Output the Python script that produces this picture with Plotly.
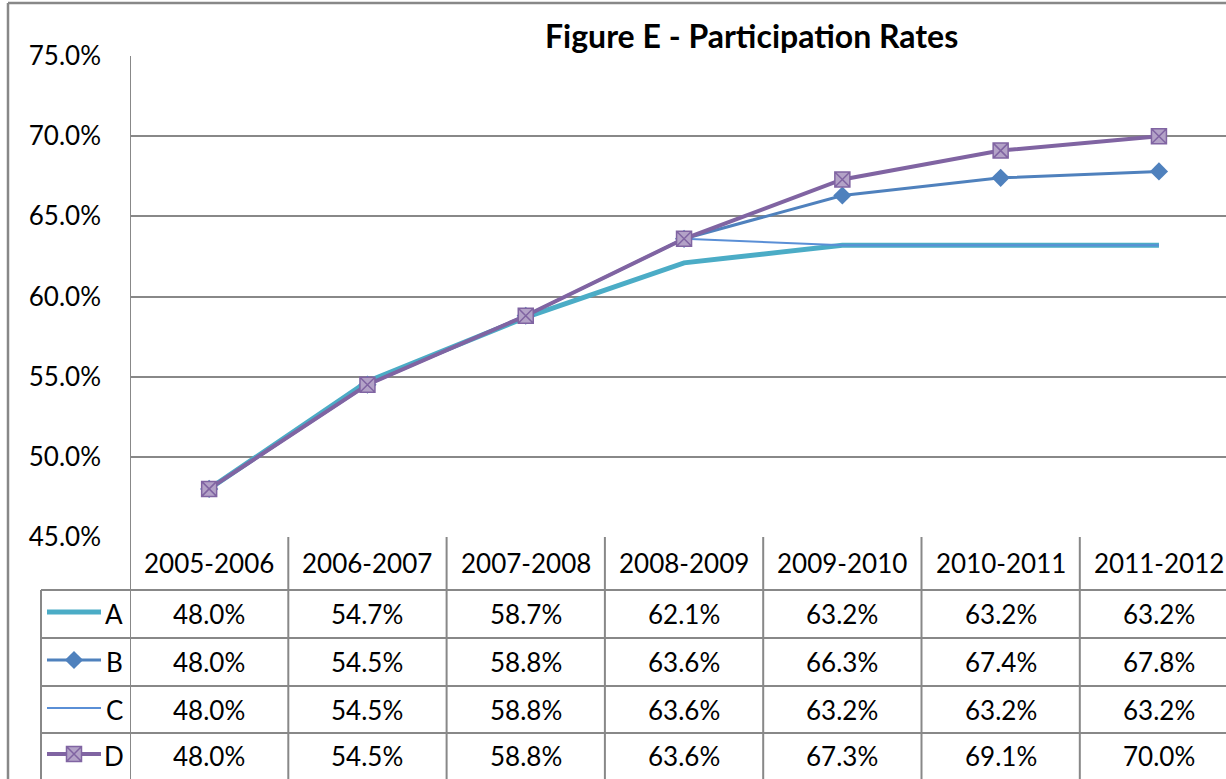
import plotly.graph_objects as go

# ---------------- data ----------------
categories = ["2005-2006", "2006-2007", "2007-2008", "2008-2009",
              "2009-2010", "2010-2011", "2011-2012"]
series_names = ["A", "B", "C", "D"]
a_vals = [48.0, 54.7, 58.7, 62.1, 63.2, 63.2, 63.2]
b_vals = [48.0, 54.5, 58.8, 63.6, 66.3, 67.4, 67.8]
c_vals = [48.0, 54.5, 58.8, 63.6, 63.2, 63.2, 63.2]
d_vals = [48.0, 54.5, 58.8, 63.6, 67.3, 69.1, 70.0]
y_ticks = [45, 50, 55, 60, 65, 70, 75]
title_text = "Figure E - Participation Rates"

# ---------------- layout constants (pixels) ----------------
W, H = 1226, 779
PLOT_L, PLOT_T, PLOT_B = 130, 56, 537
COL_W = 158.3
ROW_LINES = [590, 638, 686, 733]
ROW_CENTERS = [614, 662, 710, 756]
HEADER_CENTER = 563
KEY_L = 41
FONT = "Lato"
GRID = "#888888"
TXT = 26

def px(x):
    return x / W

def py(y):
    return 1 - y / H

x_range = [-0.5, -0.5 + (W - PLOT_L) / COL_W]

styles = {
    "A": dict(line=dict(color="#4BACC6", width=5), mode="lines"),
    "B": dict(line=dict(color="#4F81BD", width=3), mode="lines+markers",
              marker=dict(symbol="diamond", size=14, color="#4F81BD",
                          line=dict(width=0))),
    "C": dict(line=dict(color="#5A8FD6", width=2), mode="lines"),
    "D": dict(line=dict(color="#8064A2", width=4), mode="lines+markers",
              marker=dict(symbol="square-x", size=15, color="#B3A2C7",
                          line=dict(color="#8064A2", width=1.5))),
}
values = {"A": a_vals, "B": b_vals, "C": c_vals, "D": d_vals}

fig = go.Figure()
for name in series_names:
    fig.add_trace(go.Scatter(x=list(range(len(categories))), y=values[name],
                             name=name, showlegend=False, hoverinfo="skip",
                             cliponaxis=False, xaxis="x", yaxis="y",
                             **styles[name]))

# legend keys in the data table (pixel-space axes over the key column)
for i, name in enumerate(series_names):
    st = styles[name]
    cy = ROW_CENTERS[i] - 2
    fig.add_trace(go.Scatter(x=[47, 101], y=[cy, cy], mode="lines",
                             line=st["line"], showlegend=False,
                             hoverinfo="skip", cliponaxis=False,
                             xaxis="x2", yaxis="y2"))
    if "marker" in st:
        fig.add_trace(go.Scatter(x=[74], y=[cy], mode="markers",
                                 marker=st["marker"], showlegend=False,
                                 hoverinfo="skip", cliponaxis=False,
                                 xaxis="x2", yaxis="y2"))

shapes = []
line_style = dict(color=GRID, width=2)
shapes.append(dict(type="line", xref="x", yref="paper", x0=-0.5, x1=-0.5,
                   y0=py(PLOT_T), y1=0, line=line_style, layer="above"))
for i in range(1, len(categories)):
    shapes.append(dict(type="line", xref="x", yref="paper", x0=i - 0.5,
                       x1=i - 0.5, y0=py(PLOT_B), y1=0, line=line_style))
for yl in ROW_LINES:
    shapes.append(dict(type="line", xref="paper", yref="paper", x0=px(KEY_L),
                       x1=1, y0=py(yl), y1=py(yl), line=line_style))
shapes.append(dict(type="line", xref="paper", yref="paper", x0=px(KEY_L),
                   x1=px(KEY_L), y0=py(ROW_LINES[0]), y1=0, line=line_style))
shapes.append(dict(type="line", xref="paper", yref="paper", x0=px(8), x1=px(8),
                   y0=py(3), y1=0, line=dict(color=GRID, width=2.5)))
shapes.append(dict(type="line", xref="paper", yref="paper", x0=px(8), x1=1,
                   y0=py(3), y1=py(3), line=dict(color=GRID, width=2.5)))

annotations = []
annotations.append(dict(text="<b>" + title_text + "</b>", xref="paper",
                        yref="paper", x=px(751), y=py(35), showarrow=False,
                        xanchor="center", yanchor="middle",
                        font=dict(family=FONT, size=32, color="black")))
for i, cat in enumerate(categories):
    annotations.append(dict(text=cat, xref="x", yref="paper", x=i,
                            y=py(HEADER_CENTER), showarrow=False,
                            xanchor="center", yanchor="middle",
                            font=dict(family=FONT, size=TXT, color="black")))
for r, name in enumerate(series_names):
    annotations.append(dict(text=name, xref="paper", yref="paper", x=px(114),
                            y=py(ROW_CENTERS[r]), showarrow=False,
                            xanchor="center", yanchor="middle",
                            font=dict(family=FONT, size=TXT, color="black")))
    for i, v in enumerate(values[name]):
        annotations.append(dict(text=f"{v:.1f}%", xref="x", yref="paper", x=i,
                                y=py(ROW_CENTERS[r]), showarrow=False,
                                xanchor="center", yanchor="middle",
                                font=dict(family=FONT, size=TXT, color="black")))

fig.update_layout(
    width=W, height=H,
    margin=dict(l=0, r=0, t=0, b=0, autoexpand=False),
    paper_bgcolor="white", plot_bgcolor="rgba(0,0,0,0)",
    showlegend=False,
    xaxis=dict(domain=[px(PLOT_L), 1], range=x_range, showgrid=False,
               showticklabels=False, zeroline=False, showline=False,
               ticks="", fixedrange=True),
    yaxis=dict(domain=[py(PLOT_B), py(PLOT_T)], range=[45, 75],
               tickvals=y_ticks, ticktext=[f"{v:.1f}%" for v in y_ticks],
               showgrid=True, gridcolor=GRID, gridwidth=2, zeroline=False,
               showline=False, ticks="", ticklabelstandoff=28,
               automargin=False,
               tickfont=dict(family=FONT, size=TXT, color="black"),
               fixedrange=True),
    xaxis2=dict(domain=[px(KEY_L), px(PLOT_L)], range=[KEY_L, PLOT_L],
                visible=False, anchor="y2", fixedrange=True),
    yaxis2=dict(domain=[0, py(ROW_LINES[0])], range=[H, ROW_LINES[0]],
                visible=False, anchor="x2", fixedrange=True),
    shapes=shapes,
    annotations=annotations,
)

fig.write_html("out.html", config={"displayModeBar": False},
               post_script="document.body.style.margin='0';")
